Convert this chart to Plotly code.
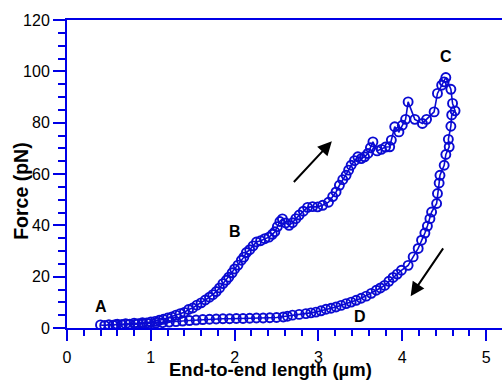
import plotly.graph_objects as go

# Extension (A -> B -> C) and relaxation (C -> D) force–extension data
ext_x = [0.40, 0.45, 0.50, 0.55, 0.60, 0.65, 0.70, 0.75, 0.80, 0.85, 0.90, 0.95,
         1.00, 1.05, 1.10, 1.15, 1.20, 1.25, 1.30, 1.35, 1.40, 1.45, 1.50, 1.55,
         1.60, 1.65, 1.70, 1.74, 1.78, 1.82, 1.86, 1.90, 1.93, 1.97, 2.00, 2.04,
         2.08, 2.11, 2.14, 2.18, 2.22, 2.26, 2.31, 2.36, 2.41, 2.45, 2.48, 2.51,
         2.54, 2.57, 2.61, 2.65, 2.69, 2.73, 2.77, 2.82, 2.87, 2.93, 2.99, 3.05,
         3.12, 3.17, 3.21, 3.25, 3.29, 3.33, 3.36, 3.39, 3.43, 3.47, 3.51, 3.55,
         3.59, 3.62, 3.65, 3.70, 3.75, 3.80, 3.85, 3.87, 3.91, 3.96, 4.00, 4.04,
         4.07, 4.15, 4.24, 4.29, 4.38, 4.42, 4.47, 4.50, 4.52]
ext_y = [1.2, 1.0, 1.3, 1.1, 1.5, 1.3, 1.7, 1.5, 1.9, 1.7, 2.1, 2.0,
         2.4, 2.6, 3.0, 3.4, 3.9, 4.3, 5.0, 5.6, 6.1, 7.2, 7.8, 8.9,
         9.8, 10.9, 12.0, 13.0, 14.2, 15.6, 17.3, 18.6, 19.8, 21.5, 23.0, 24.5,
         26.4, 27.6, 29.4, 30.5, 32.0, 33.5, 34.0, 34.8, 35.4, 36.5, 37.5, 39.5,
         41.5, 42.5, 40.9, 40.0, 41.0, 42.6, 44.0, 45.5, 47.0, 47.3, 47.2, 47.8,
         49.0, 51.2, 53.0, 55.6, 57.8, 59.5, 61.5, 63.4, 65.2, 66.7, 66.0, 66.7,
         68.0, 70.2, 72.5, 69.0, 69.6, 70.5, 70.6, 73.2, 78.4, 76.4, 79.0, 81.3,
         88.1, 81.3, 79.7, 81.3, 84.2, 91.4, 94.6, 95.9, 97.6]

rel_x = [4.52, 4.58, 4.60, 4.63, 4.59, 4.58, 4.55, 4.56, 4.52, 4.50, 4.45, 4.44,
         4.42, 4.41, 4.35, 4.33, 4.30, 4.27, 4.23, 4.19, 4.13, 4.07, 3.99, 3.94,
         3.89, 3.84, 3.79, 3.74, 3.69, 3.63, 3.57, 3.51, 3.45, 3.39, 3.33, 3.27,
         3.21, 3.15, 3.09, 3.03, 2.97, 2.91, 2.85, 2.77, 2.69, 2.63, 2.58, 2.50,
         2.42, 2.34, 2.26, 2.18, 2.10, 2.02, 1.94, 1.86, 1.78, 1.70, 1.62, 1.54,
         1.46, 1.38, 1.30, 1.22, 1.14, 1.06, 0.98, 0.90, 0.82, 0.74, 0.66, 0.58]
rel_y = [97.6, 93.0, 87.5, 84.6, 83.0, 78.6, 73.5, 70.6, 67.6, 63.4, 59.5, 56.5,
         52.4, 48.5, 45.2, 42.6, 39.7, 37.0, 34.2, 31.0, 27.7, 24.4, 22.5, 21.0,
         19.7, 18.2, 16.6, 15.6, 14.7, 13.5, 12.4, 11.6, 10.8, 10.1, 9.5, 8.8,
         8.2, 7.7, 7.3, 6.7, 6.2, 5.9, 5.6, 5.3, 5.0, 4.6, 4.3, 4.1,
         4.0, 3.9, 3.9, 3.8, 3.7, 3.7, 3.6, 3.6, 3.5, 3.4, 3.3, 3.1,
         2.9, 2.7, 2.5, 2.3, 2.1, 1.9, 1.7, 1.6, 1.5, 1.4, 1.3, 1.3]

point_labels = ["A", "B", "C", "D"]
label_x = [0.41, 2.00, 4.52, 3.50]
label_y = [8.5, 37.7, 105.7, 4.5]

# arrows: (tail x, tail y, head x, head y)
arrow_tail_x = [2.69, 4.50]
arrow_tail_y = [56.3, 31.6]
arrow_head_x = [3.16, 4.10]
arrow_head_y = [72.8, 12.4]

x_title = "End-to-end length (µm)"
y_title = "Force (pN)"

AXIS = "rgb(0,0,230)"
DATA = "rgb(10,10,210)"
FONT = "Liberation Sans, Arial, sans-serif"

fig = go.Figure()
fig.add_trace(go.Scatter(
    x=ext_x + rel_x[1:], y=ext_y + rel_y[1:], mode="lines+markers",
    line=dict(color=DATA, width=1.6),
    marker=dict(symbol="circle-open", size=9, color=DATA, line=dict(width=1.9)),
    showlegend=False, hoverinfo="skip"))

for t, lx, ly in zip(point_labels, label_x, label_y):
    fig.add_annotation(x=lx, y=ly, text="<b>" + t + "</b>", showarrow=False,
                       font=dict(family=FONT, size=16, color="black"))

for tx, ty, hx, hy in zip(arrow_tail_x, arrow_tail_y, arrow_head_x, arrow_head_y):
    fig.add_annotation(x=hx, y=hy, ax=tx, ay=ty, xref="x", yref="y",
                       axref="x", ayref="y", text="", showarrow=True,
                       arrowhead=2, arrowsize=1.4, arrowwidth=2, arrowcolor="black")

fig.add_annotation(xref="paper", yref="paper", x=0.468, y=-0.135,
                   text="<b>" + x_title + "</b>", showarrow=False,
                   font=dict(family=FONT, size=18.5, color="black"),
                   xanchor="center", yanchor="middle")
fig.add_annotation(xref="paper", yref="paper", x=-0.106, y=0.445,
                   text="<b>" + y_title + "</b>", showarrow=False, textangle=-90,
                   font=dict(family=FONT, size=19.5, color="black"),
                   xanchor="center", yanchor="middle")

fig.update_layout(
    width=502, height=381,
    margin=dict(l=67, r=0, t=20, b=53),
    paper_bgcolor="white", plot_bgcolor="white",
    font=dict(family=FONT, size=16, color="black"),
    xaxis=dict(range=[0, 5.19], showgrid=False, zeroline=False,
               showline=True, linecolor=AXIS, linewidth=2, mirror=True,
               tickmode="linear", tick0=0, dtick=1,
               ticks="outside", ticklen=11, tickwidth=2, tickcolor=AXIS,
               ticklabelstandoff=3,
               minor=dict(ticks="outside", dtick=0.2, ticklen=6,
                          tickwidth=2, tickcolor=AXIS, showgrid=False),
               tickfont=dict(family=FONT, size=16, color="black")),
    yaxis=dict(range=[0, 120], showgrid=False, zeroline=False,
               showline=True, linecolor=AXIS, linewidth=2, mirror=False,
               tickmode="linear", tick0=0, dtick=20,
               ticks="outside", ticklen=12, tickwidth=2, tickcolor=AXIS,
               minor=dict(ticks="outside", dtick=5, ticklen=7,
                          tickwidth=2, tickcolor=AXIS, showgrid=False),
               tickfont=dict(family=FONT, size=16, color="black")),
)

fig.write_html("out.html", config={"displayModeBar": False})
